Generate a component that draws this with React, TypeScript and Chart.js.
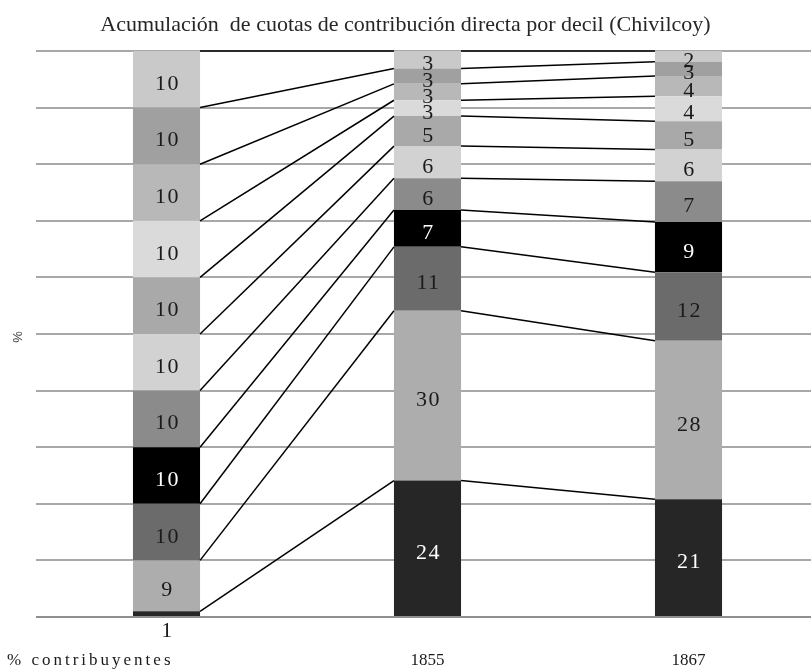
import React, { useEffect, useRef } from 'react';
import { Chart, registerables } from 'chart.js';

Chart.register(...registerables);

// Categories (x axis)
const categories = ['% contribuyentes', '1855', '1867'];

// Stack values, bottom segment first (percent)
const contribuyentes = [1, 9, 10, 10, 10, 10, 10, 10, 10, 10, 10];
const cuotas1855 = [24.1, 30.0, 11.3, 6.5, 5.6, 5.7, 5.3, 2.8, 2.9, 2.7, 3.1];
const cuotas1867 = [20.8, 28.0, 12.1, 8.9, 7.2, 5.6, 5.0, 4.4, 3.6, 2.5, 1.9];

// Segment styles, bottom segment first
const segmentColors = ['#262626', '#adadad', '#6b6b6b', '#000000', '#8b8b8b', '#d2d2d2', '#a9a9a9', '#dadada', '#b8b8b8', '#a0a0a0', '#c9c9c9'];
const labelColors = ['#ffffff', '#1a1a1a', '#1a1a1a', '#ffffff', '#1a1a1a', '#1a1a1a', '#1a1a1a', '#1a1a1a', '#1a1a1a', '#1a1a1a', '#1a1a1a'];

const yTicks = [0, 10, 20, 30, 40, 50, 60, 70, 80, 90, 100];

const TITLE = 'Acumulación  de cuotas de contribución directa por decil (Chivilcoy)';
const Y_TITLE = '%';
const SERIF = '"Liberation Serif", "DejaVu Serif", serif';
const VISIBLE_WIDTH = 811;
const LABEL_SIZE = 22;

const overlayPlugin = {
  id: 'overlay',
  afterDatasetsDraw(chart: any) {
    const ctx = chart.ctx;
    const n = chart.data.datasets.length;
    ctx.save();
    // series lines connecting segment tops
    ctx.strokeStyle = '#000000';
    ctx.lineWidth = 1.5;
    for (let s = 0; s < n; s++) {
      const meta = chart.getDatasetMeta(s);
      for (let i = 0; i < meta.data.length - 1; i++) {
        const a = meta.data[i];
        const b = meta.data[i + 1];
        ctx.beginPath();
        ctx.moveTo(a.x + a.width / 2, a.y);
        ctx.lineTo(b.x - b.width / 2, b.y);
        ctx.stroke();
      }
    }
    // segment labels
    ctx.font = `${LABEL_SIZE}px ${SERIF}`;
    (ctx as any).letterSpacing = '1.5px';
    ctx.textAlign = 'center';
    ctx.textBaseline = 'alphabetic';
    for (let s = 0; s < n; s++) {
      const meta = chart.getDatasetMeta(s);
      const data = chart.data.datasets[s].data;
      for (let i = 0; i < meta.data.length; i++) {
        const el = meta.data[i];
        const h = el.base - el.y;
        let y = (el.y + el.base) / 2 + LABEL_SIZE * 0.34 + 3;
        let color = labelColors[s];
        if (h < 10) {
          y = el.base + 21;
          color = '#1a1a1a';
        }
        ctx.fillStyle = color;
        ctx.fillText(String(Math.round(data[i])), el.x + 1, y);
      }
    }
    ctx.restore();
  },
  afterDraw(chart: any) {
    const ctx = chart.ctx;
    const xScale = chart.scales.x;
    const area = chart.chartArea;
    ctx.save();
    // title
    ctx.font = `22px ${SERIF}`;
    ctx.fillStyle = '#262626';
    ctx.textAlign = 'center';
    ctx.textBaseline = 'alphabetic';
    ctx.fillText(TITLE, VISIBLE_WIDTH / 2, 31);
    // category labels
    ctx.font = `17px ${SERIF}`;
    ctx.fillStyle = '#1a1a1a';
    categories.forEach((c, i) => {
      const x = xScale.getPixelForValue(i);
      if (i === 0) {
        ctx.textAlign = 'right';
        (ctx as any).letterSpacing = '3px';
        ctx.fillText(c, x + 7, area.bottom + 48);
        (ctx as any).letterSpacing = '0px';
      } else {
        ctx.textAlign = 'center';
        ctx.fillText(c, x, area.bottom + 48);
      }
    });
    // y axis title
    ctx.font = '13px "Liberation Sans", Arial, sans-serif';
    ctx.fillStyle = '#404040';
    ctx.textAlign = 'center';
    ctx.textBaseline = 'middle';
    ctx.translate(18, (area.top + area.bottom) / 2 + 3);
    ctx.rotate(-Math.PI / 2);
    ctx.fillText(Y_TITLE, 0, 0);
    ctx.restore();
  },
};

export default function App() {
  const canvasRef = useRef<HTMLCanvasElement | null>(null);

  useEffect(() => {
    const canvas = canvasRef.current;
    if (!canvas) return;
    const stacks = [contribuyentes, cuotas1855, cuotas1867];
    const datasets = segmentColors.map((color, s) => ({
      label: `Segmento ${s + 1}`,
      data: stacks.map((arr) => arr[s]),
      backgroundColor: color,
      borderWidth: 0,
      categoryPercentage: 1,
      barPercentage: 0.257,
    }));
    const chart = new Chart(canvas, {
      type: 'bar',
      data: { labels: categories, datasets },
      options: {
        responsive: false,
        animation: false,
        devicePixelRatio: 1,
        layout: { padding: { left: 36, right: 0, top: 51, bottom: 53 } },
        plugins: {
          legend: { display: false },
          tooltip: { enabled: false },
          title: { display: false },
        },
        scales: {
          x: {
            stacked: true,
            display: false,
          },
          y: {
            stacked: true,
            min: yTicks[0],
            max: yTicks[yTicks.length - 1],
            afterBuildTicks: (scale: any) => {
              scale.ticks = yTicks.map((v) => ({ value: v }));
            },
            ticks: { display: false },
            grid: {
              color: (c: any) => (c.tick && c.tick.value === 0 ? '#8f8f8f' : '#a8a8a8'),
              lineWidth: 2,
              drawTicks: false,
            },
            border: { display: false },
          },
        },
      },
      plugins: [overlayPlugin],
    } as any);
    return () => chart.destroy();
  }, []);

  return (
    <div style={{ position: 'absolute', left: 0, top: 0, width: VISIBLE_WIDTH, height: 670, overflow: 'hidden', background: '#ffffff' }}>
      <canvas ref={canvasRef} width={819} height={670} style={{ display: 'block' }} />
    </div>
  );
}
